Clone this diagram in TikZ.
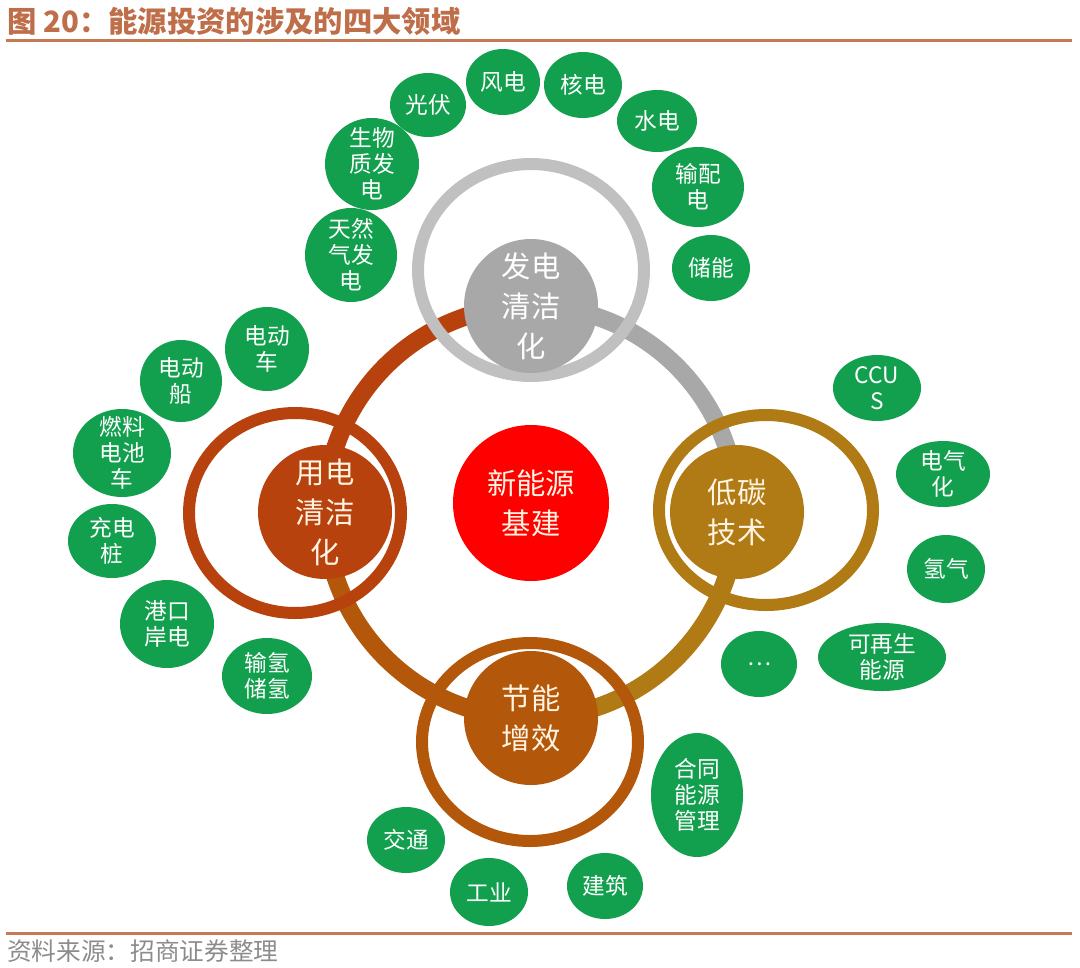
\documentclass[tikz,border=0pt]{standalone}
\usepackage{fontspec}
\usepackage{tikz}
\usetikzlibrary{backgrounds}
\setmainfont{Noto Sans CJK SC}
\definecolor{leaf}{HTML}{13A04E}
\definecolor{rust}{HTML}{B8420E}
\definecolor{amber}{HTML}{B3570A}
\definecolor{gold}{HTML}{B07A14}
\definecolor{ash}{HTML}{A8A8A8}
\definecolor{pale}{HTML}{C0C0C0}
\definecolor{hubred}{HTML}{FF0000}
\definecolor{rule}{HTML}{C47A55}
\definecolor{heading}{HTML}{BF6E4A}
\definecolor{note}{HTML}{8C8C8C}
\definecolor{cream}{HTML}{FFF3E2}

\begin{document}
\begin{tikzpicture}[x=0.75pt,y=-0.75pt,
  core/.style={circle,minimum size=100.5pt,inner sep=0pt,align=center,text=cream,font=\fontsize{22}{30}\selectfont},
  leaftext/.style={inner sep=0pt,align=center,text=white,font=\fontsize{17}{19.5}\selectfont},
  halo/.style={line width=9pt},
  band/.style={line width=13.5pt}
]
\useasboundingbox (0,0) rectangle (1080,967);
\node[anchor=west,inner sep=0pt,text=heading,font=\fontsize{22}{26}\selectfont\bfseries] (title) at (7,21) {图 20：能源投资的涉及的四大领域};
\draw[rule,line width=2.25pt] (6,40) -- (1072,40);
\draw[rule,line width=2.25pt] (6,933) -- (1072,933);
\node[anchor=west,inner sep=0pt,text=note,font=\fontsize{18.5}{20}\selectfont] (source) at (7,951) {资料来源：招商证券整理};

\node[core,fill=hubred,minimum size=117pt] (hub) at (531,503) {新能源\\基建};
\node[core,fill=ash,text=white] (gen) at (531,306) {发电\\清洁\\化};
\node[core,fill=rust] (use) at (325,512) {用电\\清洁\\化};
\node[core,fill=gold] (lowc) at (737,512) {低碳\\技术};
\node[core,fill=amber] (save) at (531,718) {节能\\增效};

\begin{scope}[on background layer]
\draw[band,rust] (use.center) arc[start angle=180,end angle=90,radius=154.5pt];
\draw[band,ash] (gen.center) arc[start angle=90,end angle=0,radius=154.5pt];
\draw[band,gold] (lowc.center) arc[start angle=0,end angle=-90,radius=154.5pt];
\draw[band,amber] (save.center) arc[start angle=-90,end angle=-180,radius=154.5pt];
\draw[halo,pale] (531,270) ellipse[x radius=84.75pt,y radius=79.5pt];
\draw[halo,rust] (295,513) ellipse[x radius=79.5pt,y radius=75pt];
\draw[halo,gold] (766,510) ellipse[x radius=80.25pt,y radius=71.25pt];
\draw[halo,amber] (530,742) ellipse[x radius=81pt,y radius=74.25pt];
\end{scope}

\foreach \nm/\px/\py/\rx/\ry/\txt in {
  g1/428/105/38/32/{光伏}, g2/503/82/37/33/{风电}, g3/583/85/39/33/{核电},
  g4/657/121/40/31/{水电}, g5/698/187/46/40/{输配\\电}, g6/711/268/39/33/{储能},
  g7/372/164/47/46/{生物\\质发\\电}, g8/351/255/46/47/{天然\\气发\\电},
  u1/267/349/42/42/{电动\\车}, u2/181/381/41/41/{电动\\船}, u3/122/453/49/44/{燃料\\电池\\车},
  u4/112/541/44/37/{充电\\桩}, u5/167/624/47/44/{港口\\岸电}, u6/267/676/45/38/{输氢\\储氢},
  c1/877/388/44/33/{CCU\\S}, c2/943/474/47/33/{电气\\化}, c3/946/569/39/34/{氢气},
  c4/759/664/38/33/{…}, c5/882/657/64/34/{可再生\\能源},
  s1/697/795/46/62/{合同\\能源\\管理}, s2/406/840/39/33/{交通}, s3/489/892/39/34/{工业},
  s4/605/886/38/33/{建筑}}
{
  \fill[leaf] (\px,\py) ellipse[x radius=0.75pt*\rx,y radius=0.75pt*\ry];
  \node[leaftext] (\nm) at (\px,\py) {\txt};
}
\end{tikzpicture}
\end{document}
